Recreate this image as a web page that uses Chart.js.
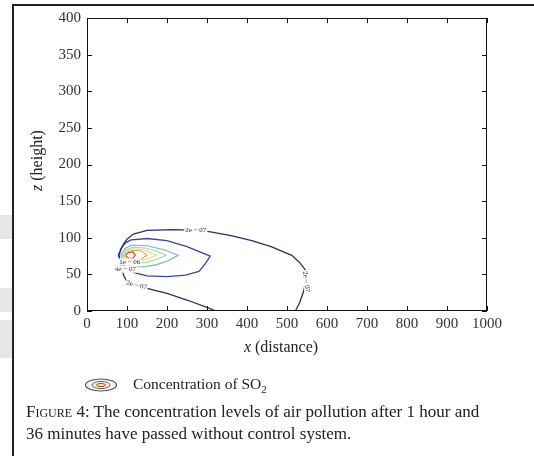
<!DOCTYPE html>
<html>
<head>
<meta charset="utf-8">
<script src="https://cdn.jsdelivr.net/npm/chart.js@4.4.1/dist/chart.umd.min.js"></script>
<style>
  html, body { margin: 0; padding: 0; background: #fff; }
  body { width: 534px; height: 456px; position: relative; overflow: hidden; font-family: "Liberation Serif", "DejaVu Serif", serif; }
  #frame { position: absolute; left: 12px; top: 4px; width: 600px; height: 500px; border-left: 2px solid #222; border-top: 2px solid #222; }
  .grey { position: absolute; left: 0; width: 12px; background: #e6e6e6; }
  #chartBox { position: absolute; left: 0; top: 0; width: 534px; height: 456px; }
  #legend { position: absolute; left: 84px; top: 375px; font-size: 15.5px; color: #222; display: flex; align-items: center; }
  #legend svg { margin-right: 15px; }
  #caption { position: absolute; left: 26px; top: 401px; font-size: 17px; line-height: 22px; color: #222; white-space: nowrap; }
  .sc { font-variant: small-caps; }
</style>
</head>
<body>
<div class="grey" style="top:215px;height:24px"></div>
<div class="grey" style="top:288px;height:24px"></div>
<div class="grey" style="top:320px;height:38px"></div>
<div id="frame"></div>
<div id="chartBox"><canvas id="contourChart" width="534" height="456"></canvas></div>
<div id="legend">
  <svg width="34" height="16" viewBox="0 0 34 16">
    <ellipse cx="17" cy="8" rx="15.5" ry="6" fill="#f4f4f4" stroke="#555" stroke-width="1.2"/>
    <ellipse cx="17" cy="8" rx="9" ry="3.6" fill="#f7ecd0" stroke="#666" stroke-width="1"/>
    <ellipse cx="17" cy="8" rx="4.5" ry="1.5" fill="none" stroke="#c0392b" stroke-width="1"/>
  </svg>
  <span>Concentration of SO<sub style="font-size:11px">2</sub></span>
</div>
<div id="caption"><span class="sc">Figure</span> 4: The concentration levels of air pollution after 1 hour and<br>36 minutes have passed without control system.</div>

<script>
// axis ticks
const xTickLabels = [0, 100, 200, 300, 400, 500, 600, 700, 800, 900, 1000];
const yTickLabels = [0, 50, 100, 150, 200, 250, 300, 350, 400];

// contour levels (x distance, z height)
const level2e7X = [322, 300, 250, 200, 150, 120, 100, 92, 86, 80, 86, 92, 100, 116, 150, 216, 275, 309, 360, 412, 460, 512, 532, 550, 546, 541, 532, 521];
const level2e7Y = [0, 5, 15, 24, 31, 36, 40, 48, 60, 76, 86, 92, 98, 105, 110, 111, 110, 108, 103, 96, 88, 76, 66, 53, 40, 26, 12, 0];

const level4e7X = [78, 86, 96, 110, 150, 200, 250, 308, 295, 280, 246, 200, 150, 120, 100, 86, 78];
const level4e7Y = [76, 86, 93, 97, 99, 96, 88, 75, 64, 54, 49, 47, 48, 52, 57, 66, 76];

const level6e7X = [84, 95, 112, 150, 190, 228, 200, 172, 140, 110, 94, 84];
const level6e7Y = [76, 85, 90, 89, 84, 76, 68, 63, 60, 61, 66, 76];

const level8e7X = [88, 98, 115, 145, 172, 198, 172, 145, 115, 98, 88];
const level8e7Y = [76, 83, 87, 86, 82, 76, 70, 66, 65, 68, 76];

const level1e6X = [90, 100, 115, 140, 174, 140, 115, 100, 90];
const level1e6Y = [76, 82, 85, 84, 76, 69, 67, 70, 76];

const level2e6X = [93, 102, 118, 136, 150, 136, 118, 102, 93];
const level2e6Y = [76, 81, 83, 82, 76, 71, 70, 72, 76];

const level4e6X = [96, 104, 114, 121, 114, 104, 96];
const level4e6Y = [76, 80, 81, 76, 72, 72, 76];

const levelColors = ['#2a2f6a', '#34479a', '#6ab8d8', '#a9d89c', '#efdc7c', '#f2a24e', '#d9302b'];

// inline contour labels
const contourLabelText = ['2e − 07', '2e − 07', '2e − 07', '1e − 06', '4e − 07'];
const contourLabelX = [272, 124, 548, 107, 96];
const contourLabelY = [110, 35, 40, 67, 57];
const contourLabelAngle = [0, 14, 82, 0, 0];

function toPoints(xs, ys) {
    return xs.map((x, i) => ({ x: x, y: ys[i] }));
}

const contourSets = [
    [level2e7X, level2e7Y],
    [level4e7X, level4e7Y],
    [level6e7X, level6e7Y],
    [level8e7X, level8e7Y],
    [level1e6X, level1e6Y],
    [level2e6X, level2e6Y],
    [level4e6X, level4e6Y]
];

const datasets = contourSets.map((pair, i) => ({
    data: toPoints(pair[0], pair[1]),
    showLine: true,
    borderColor: levelColors[i],
    borderWidth: i < 2 ? 1.3 : 1.1,
    pointRadius: 0,
    tension: 0,
    fill: false
}));

// frame, inward ticks, axis titles and contour labels
const figurePlugin = {
    id: 'figurePlugin',
    afterDatasetsDraw(chart) {
        const ctx = chart.ctx;
        const xs = chart.scales.x;
        const ys = chart.scales.y;
        const a = chart.chartArea;

        // contour labels with white gaps
        ctx.save();
        ctx.font = '7px "Liberation Serif", serif';
        ctx.textAlign = 'center';
        ctx.textBaseline = 'middle';
        contourLabelText.forEach((txt, i) => {
            const px = xs.getPixelForValue(contourLabelX[i]);
            const py = ys.getPixelForValue(contourLabelY[i]);
            const w = ctx.measureText(txt).width;
            ctx.save();
            ctx.translate(px, py);
            ctx.rotate(contourLabelAngle[i] * Math.PI / 180);
            ctx.fillStyle = 'rgba(255,255,255,0.9)';
            ctx.fillRect(-w / 2 - 1, -3.5, w + 2, 7);
            ctx.fillStyle = '#333';
            ctx.fillText(txt, 0, 0);
            ctx.restore();
        });
        ctx.restore();

        // frame
        ctx.save();
        ctx.strokeStyle = '#111';
        ctx.lineWidth = 1;
        ctx.strokeRect(a.left + 0.5, a.top + 0.5, a.right - a.left - 1, a.bottom - a.top - 1);

        // inward ticks
        ctx.beginPath();
        xTickLabels.forEach(v => {
            const px = Math.round(xs.getPixelForValue(v)) + 0.5;
            ctx.moveTo(px, a.bottom);
            ctx.lineTo(px, a.bottom - 5);
            ctx.moveTo(px, a.top);
            ctx.lineTo(px, a.top + 5);
        });
        yTickLabels.forEach(v => {
            const py = Math.round(ys.getPixelForValue(v)) + 0.5;
            ctx.moveTo(a.left, py);
            ctx.lineTo(a.left + 5, py);
            ctx.moveTo(a.right, py);
            ctx.lineTo(a.right - 5, py);
        });
        ctx.stroke();
        ctx.restore();

        // axis titles
        drawTitle(ctx, 'x', ' (distance)', (a.left + a.right) / 2 - 6, 348, 0);
        drawTitle(ctx, 'z', ' (height)', 38, (a.top + a.bottom) / 2 - 4, -Math.PI / 2);
    }
};

function drawTitle(ctx, italicPart, rest, cx, cy, angle) {
    ctx.save();
    ctx.translate(cx, cy);
    ctx.rotate(angle);
    ctx.fillStyle = '#222';
    ctx.textBaseline = 'middle';
    const itFont = 'italic 16px "Liberation Serif", serif';
    const rmFont = '16px "Liberation Serif", serif';
    ctx.font = itFont;
    const w1 = ctx.measureText(italicPart).width;
    ctx.font = rmFont;
    const w2 = ctx.measureText(rest).width;
    let x0 = -(w1 + w2) / 2;
    ctx.font = itFont;
    ctx.fillText(italicPart, x0, 0);
    ctx.font = rmFont;
    ctx.fillText(rest, x0 + w1, 0);
    ctx.restore();
}

const contourChart = new Chart(document.getElementById('contourChart'), {
    type: 'scatter',
    data: { datasets: datasets },
    options: {
        responsive: false,
        animation: false,
        layout: { padding: { left: 0, right: 47, top: 18, bottom: 115 } },
        plugins: {
            legend: { display: false },
            tooltip: { enabled: false }
        },
        scales: {
            x: {
                type: 'linear',
                min: 0,
                max: 1000,
                afterFit: scale => { scale.height = 30; },
                afterBuildTicks: scale => { scale.ticks = xTickLabels.map(v => ({ value: v })); },
                grid: { display: false, drawTicks: false },
                border: { display: false },
                ticks: {
                    padding: 4,
                    color: '#333',
                    font: { family: '"Liberation Serif", serif', size: 15 },
                    callback: value => String(value)
                }
            },
            y: {
                type: 'linear',
                min: 0,
                max: 400,
                afterFit: scale => { scale.width = 87; },
                afterBuildTicks: scale => { scale.ticks = yTickLabels.map(v => ({ value: v })); },
                grid: { display: false, drawTicks: false },
                border: { display: false },
                ticks: {
                    padding: 6,
                    color: '#333',
                    font: { family: '"Liberation Serif", serif', size: 15 },
                    callback: value => String(value)
                }
            }
        }
    },
    plugins: [figurePlugin]
});
</script>
</body>
</html>
